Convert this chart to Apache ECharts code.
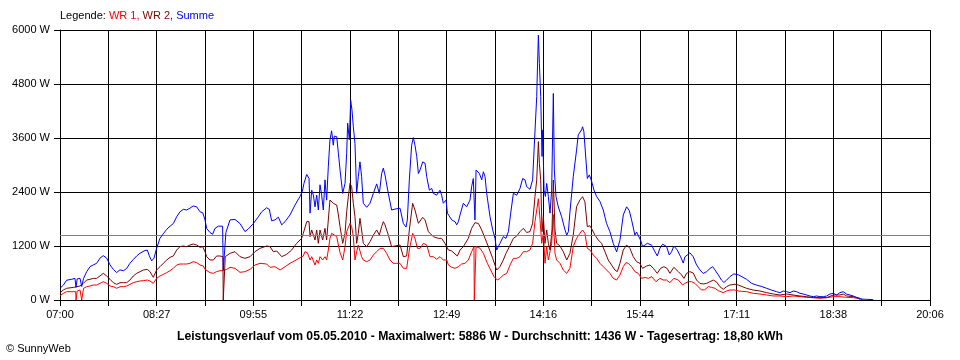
<!DOCTYPE html>
<html>
<head>
<meta charset="utf-8">
<script src="https://cdn.jsdelivr.net/npm/echarts@6/dist/echarts.min.js"></script>
<style>html,body{margin:0;padding:0;background:#fff}#c{width:960px;height:360px}</style>
</head>
<body>
<div id="c"></div>
<script>
// time in minutes after 07:00, value in W
var tickLabels = ['07:00','08:27','09:55','11:22','12:49','14:16','15:44','17:11','18:38','20:06'];
var yTicks = [0,1200,2400,3600,4800,6000];
var average = 1436;

var wr1 = [[0,96],[3,148],[6,185],[12,185],[14.2,185],[14.5,0],[15.1,0],[15.5,200],[18.1,222],[19.3,225],[19.6,0],[21,0],[21.3,260],[24.1,296],[27.1,311],[30.1,333],[33.1,333],[36.1,370],[39.1,407],[42.2,370],[45.2,311],[48.2,296],[51.2,260],[54.2,296],[57.2,296],[60.2,311],[63.2,348],[66.2,385],[69.3,407],[72.3,422],[75.3,430],[78.9,444],[81.3,422],[84.3,370],[87.3,481],[90.3,533],[93.3,570],[96.4,607],[99.4,652],[102.4,704],[105.4,778],[108.4,800],[111.4,800],[114.4,800],[117.4,815],[120.4,852],[123.5,830],[126.5,778],[129.5,756],[131,681],[135.5,607],[138.5,593],[141.5,630],[144.5,652],[147.5,652],[150.6,681],[153.6,726],
[158.1,704],[162.6,615],[167.1,630],[171.7,681],[176.2,778],[180.7,815],[186.7,800],[189.7,726],[194.2,740],[198.8,667],[203.3,740],[207.8,815],[212.3,874],[216.8,940],[219.8,978],[221.3,1074],[223.5,1050],[225.9,889],[227.4,963],[230.4,778],[231.9,889],[233.4,815],[234.9,963],[237.3,889],[239.4,963],[240.9,889],[242.4,1111],[243.9,1370],[245.4,1481],[246.9,1440],[250,1407],[251.5,1222],[253,1052],[255.4,889],[257.5,1185],[259,1519],[260.5,1540],[262,1704],[263.5,1630],[265,1407],[266.5,889],[268,1070],[269.5,1222],[271,1260],[272.5,963],[274,889],[277.1,852],[280.1,889],[283.1,1000],[286.1,1074],[289.1,1148],[292.1,1148],[295.1,1037],[298.1,889],[301.1,815],[304.2,815],
[307.2,815],[310.2,704],[313.2,704],[315.6,1111],[318.6,1481],[320.7,1370],[322.9,1148],[325.3,1148],[328.3,1259],[331.3,1222],[334.3,963],[337.3,963],[340.3,904],[343.3,963],[346.3,889],[349.4,889],[350.9,778],[353.9,726],[356.9,704],[359.9,740],[362.9,800],[365.9,815],[368.9,889],[371.9,1074],[374,1185],[374.3,0],[375.6,0],[375.9,1185],[377.1,1185],[379.5,1150],[382.5,1037],[386.1,815],[389.1,667],[392.1,519],[395.1,444],[397.5,480],[400.5,556],[403.6,590],[406.6,778],[409.6,926],[412.6,926],[415.6,963],[418.6,1074],[421.6,1074],[424.6,1111],[427,1259],[429.1,1741],[430.7,2000],[432.2,2250],[433.7,1778],[435.2,1259],[436.7,1480],[438.2,815],[439.7,1185],[441.2,889],[442.7,889],[444.2,1259],[445.7,1900],[447.2,1037],[448.7,889],[451.7,815],[454.7,667],[457.8,593],[459.3,630],
[460.7,704],[463.7,1185],[466.7,1370],[469.7,1481],[472.1,1556],[474.2,1480],[476.4,1148],[478.8,1111],[481.8,1000],[484.8,926],[487.8,815],[490.8,741],[493.8,667],[496.8,593],[499.8,481],[502.9,444],[505.9,556],[508.9,741],[511.3,830],[513.4,815],[516.4,741],[519.4,630],[522.4,593],[525.4,481],[528.5,500],[531.5,481],[534.5,519],[538.4,407],[542,481],[545,444],[548,444],[551,385],[554.6,481],[558.6,444],[562.5,333],[564.6,370],[567.6,407],[570.6,407],[573.6,370],[576.6,296],[579.6,222],[582.6,230],[585.7,296],[588.7,280],[591.7,260],[594.7,207],[599.2,163],[602.2,200],[605.2,222],[609.7,222],[612.8,200],
[614.3,222],[620.3,185],[626.3,148],[632.4,133],[638.4,111],[644.4,89],[650.4,89],[656.5,74],[662.5,89],[668.5,74],[674.5,59],[680.5,52],[686.6,37],[692.6,52],[698.6,74],[704.6,74],[710.7,59],[716.7,52],[721.2,37],[722.7,15]];

var wr2 = [[0,163],[3,222],[6,260],[12,280],[18.1,311],[21.1,370],[24.1,444],[27.1,460],[30.1,480],[33.1,480],[36.1,533],[39.1,593],[42.2,533],[45.2,460],[48.2,385],[51.2,348],[54.2,385],[57.2,385],[60.2,385],[63.2,444],[66.2,533],[69.3,593],[72.3,630],[75.3,667],[78.9,680],[81.3,630],[84.3,504],[87.3,667],[90.3,740],[93.3,815],[96.4,889],[99.4,948],[102.4,978],[105.4,1111],[108.4,1185],[111.4,1200],[114.4,1185],[117.4,1222],[120.4,1244],[123.5,1222],[126.5,1170],[128.9,1185],[131,1074],[132.5,963],[135.5,889],[138.5,889],[141.5,978],[144.5,978],[147.2,963],[147.5,0],[148.9,0],[149.3,963],[150.6,978],[153.6,1037],
[158.1,1074],[162.6,963],[167.1,926],[171.7,963],[176.2,1074],[180.7,1148],[186.7,1200],[189.7,1185],[192.7,1074],[195.8,1090],[200.3,963],[204.8,1015],[209.3,1111],[213.8,1259],[218.3,1370],[219.8,1481],[222.9,1741],[225,1741],[225.9,1407],[227.4,1556],[230.4,1333],[231.9,1556],[233.4,1259],[234.9,1556],[237.3,1333],[239.4,1593],[240.9,1333],[242.4,1778],[243.9,2222],[245.4,2222],[246.9,2148],[248.4,2185],[250,2111],[251.5,1889],[253,1630],[255.4,1259],[257.5,1481],[259,1963],[260.5,2296],[262,2593],[263.5,2520],[265,2148],[266.5,1852],[268,1259],[269.5,1481],[271,1815],[272.5,1556],[274,1259],[277.1,1185],[280.1,1296],[283.1,1444],[286.1,1556],[288.5,1444],[290.6,1630],[292.1,1741],[293.6,1670],[296.6,1444],[299.6,1185],[302.6,1200],
[307.2,1222],[310.2,963],[313.2,978],[315.6,1556],[318.6,2148],[320.7,2000],[323.8,1704],[327.7,1837],[329.8,1780],[332.8,1519],[337.3,1407],[341.8,1370],[344.8,1370],[347.8,1259],[350.9,1111],[353.9,1090],[356.9,1022],[359,978],[361.4,1111],[364.4,1185],[368.9,1370],[371.9,1593],[374.9,1719],[378,1700],[381,1556],[384,1370],[387,1185],[390.9,926],[394.5,667],[397.5,741],[400.5,889],[402.9,1037],[406,1185],[409.6,1370],[412.6,1420],[415.6,1519],[418.6,1593],[421.6,1500],[424.6,1520],[427,1704],[429.1,2296],[430.7,2667],[432.2,3519],[433.1,3037],[434.3,2667],[435.5,1519],[436.7,1852],[438.2,1259],[439.7,1556],[441.2,1259],[442.7,1111],[444.5,1556],[445.7,2667],[447.2,1556],[448.7,1259],[451.7,1200],[454.7,1074],[457.8,889],[459.3,850],
[460.7,1037],[463.7,1444],[466.7,2074],[469.7,2222],[472.1,2296],[474.2,2185],[476.4,1630],[478.8,1650],[480.9,1556],[483.3,1444],[486.3,1333],[489.3,1259],[492.3,1074],[495.3,889],[498.3,778],[501.3,667],[503.5,630],[505.9,815],[508.9,1111],[511.9,1222],[514.9,1148],[517.9,963],[520.9,852],[523.9,815],[526.3,704],[530,756],[533,778],[536,704],[539.6,593],[542.6,704],[545.6,741],[548.6,700],[551,593],[554.6,726],[558.6,630],[561.6,556],[563.7,481],[566.1,593],[569.1,630],[572.1,600],[575.1,444],[578.1,370],[581.1,356],[584.2,370],[587.2,407],[590.2,444],[593.2,400],[596.2,296],[599.2,237],[602.2,296],[605.2,333],[609.7,350],[612.8,333],
[614.3,333],[620.3,259],[626.3,222],[632.4,200],[638.4,163],[644.4,133],[650.4,111],[656.5,133],[662.5,111],[668.5,89],[674.5,74],[680.5,52],[686.6,59],[692.6,52],[698.6,111],[704.6,111],[707.6,133],[710.7,89],[716.7,74],[721.2,52],[722.7,22],[725,10]];

var summe = [[0,260],[3,330],[6,440],[10.5,460],[13.5,480],[14.2,470],[14.5,280],[15.1,280],[15.5,470],[18.1,480],[19.3,480],[19.6,300],[21,300],[21.3,480],[24.1,630],[27.1,740],[30.1,780],[33.1,815],[36.1,930],[39.1,985],[42.2,930],[45.2,780],[48.2,680],[51.2,610],[54.2,670],[57.2,650],[60.2,700],[63.2,815],[66.2,900],[69.3,980],[72.3,1040],[76.8,1100],[78.9,1110],[80.7,980],[82.8,870],[84.9,930],[87.3,1150],[90.3,1370],[93.3,1470],[96.4,1570],[99.4,1640],[102.4,1700],[105.4,1850],[108.4,1960],[111.4,2015],[114.4,2000],[117.4,2040],[120.4,2090],[121.9,2110],[123.5,2070],[126.5,1960],[128.9,1940],[131,1780],[132.5,1590],[135.5,1500],[137.9,1460],[140,1590],[143,1640],[146.9,1640],[147.5,670],[149.3,670],[149.9,1500],[153.6,1780],
[158.1,1790],[162.6,1700],[167.1,1520],[170.2,1580],[174.7,1700],[179.2,1850],[182.2,1960],[186.7,2050],[189.1,2015],[191.2,1760],[194.2,1780],[197.3,1840],[200.3,1670],[203.3,1740],[207.8,1890],[212.3,2110],[216.8,2300],[218.9,2410],[220.4,2590],[222.9,2790],[225,2700],[225.9,1930],[227.4,2440],[228.9,2330],[230.4,2070],[231.9,2330],[233.4,2000],[234.9,2560],[236.4,2330],[237.9,2000],[239.4,2670],[240.9,2220],[242.4,2960],[243.9,3560],[245.4,3760],[246.9,3440],[247.8,3640],[250,3630],[251.5,3260],[253,2890],[255.4,2370],[257.5,2590],[259,3260],[259.9,3930],[261.4,3560],[262.6,4440],[263.8,4220],[265,3850],[266.5,3480],[268,2370],[269.5,2740],[271,3070],[272.5,2740],[274,2150],[277.1,2060],[280.1,2150],[283.1,2370],[286.1,2580],[288.5,2370],[290.6,2810],[292.1,2930],[293.6,2780],[296.6,2370],[299.6,2000],[302.6,2020],
[307.2,2040],[308.7,2000],[310.2,1700],[312.6,1620],[313.8,1780],[315.6,2670],[317.7,3440],[319.2,3610],[320.7,3440],[322.3,3190],[323.8,2810],[325.3,2890],[327.7,3070],[329.8,3040],[331.3,2740],[333.7,2440],[335.8,2480],[337.3,2370],[340.3,2330],[343.3,2440],[344.8,2330],[346.3,2150],[348.8,2220],[350,1930],[351.8,1890],[353.9,1780],[355.4,1810],[356.9,1740],[358.4,1670],[359.9,1740],[361.4,1890],[364.4,2150],[367.4,2070],[370.4,2220],[371.9,2520],[373.4,2700],[374.6,2700],[374.9,1780],[375.6,1780],[375.9,2890],[377.1,2850],[378.9,2810],[381,2670],[382.5,2850],[384,2740],[385.5,2370],[387,2110],[388.5,1850],[390.9,1560],[393,1370],[394.5,1110],[396,1150],[397.5,1260],[400.5,1410],[402.9,1370],[405.1,1520],[407.2,1930],[409.6,2370],[412.6,2330],[415.6,2480],[418,2700],[420.1,2670],[421.6,2520],[424.6,2460],[427,2670],[428.8,3590],[430.7,4520],[431.3,5110],[432.2,5886],[433.1,5260],[434.3,4520],[435.5,3190],[436.1,3780],[437.3,2440],[438.5,2300],[439.7,2590],[441.2,2300],[442.7,1930],[444.2,2440],[445.7,4590],[446.6,2890],[448.1,2300],[450.2,2070],[453.2,1850],[456.2,1560],[457.8,1440],[459.3,1520],
[460.7,1950],[463.7,2740],[466.7,3330],[468.2,3670],[469.7,3670],[471.2,3780],[472.1,3850],[473.3,3740],[474.9,3700],[476.4,2700],[478.2,2780],[479.4,2700],[480.9,2590],[482.4,2440],[484.8,2300],[487.8,2190],[490.8,2000],[493.8,1700],[496.8,1520],[499.8,1260],[502.9,1070],[504.4,1040],[505.9,1330],[508.9,1890],[511.9,2070],[514.3,1990],[516.4,1780],[519.4,1440],[520.9,1510],[522.4,1480],[524.5,1330],[526.3,1190],[528.5,1220],[530.6,1260],[534.5,1220],[537.5,1070],[539.6,980],[542,1150],[544.4,1240],[548,1190],[550.4,1000],[552.5,1070],[554.6,1200],[557.7,1110],[560.7,960],[563.1,820],[564.6,960],[566.7,1000],[569.1,1050],[572.1,960],[575.1,780],[578.1,670],[581.1,590],[584.2,630],[587.2,700],[589.6,740],[591.7,670],[594.7,560],[597.7,440],[599.8,390],[602.2,440],[605.2,520],[608.8,580],[612.8,560],
[614.3,556],[620.3,460],[624.8,370],[629.4,330],[633.9,300],[638.4,260],[642.9,220],[647.4,185],[650.4,163],[653.4,200],[656.5,185],[659.5,163],[662.5,200],[665.5,185],[668.5,148],[671.5,133],[674.5,111],[677.5,89],[680.5,74],[683.6,89],[686.6,74],[689.6,74],[692.6,89],[695.6,133],[698.6,148],[701.6,111],[704.6,163],[707.6,185],[710.7,130],[713.7,111],[716.7,89],[719.7,52],[722.7,22],[728.7,15],[734.7,7]];

var FONT = 'Arial, "Liberation Sans", sans-serif';
var xMax = 786, xStep = xMax / 18;
var chart = echarts.init(document.getElementById('c'), null, {renderer: 'canvas'});
function lineSeries(name, data, color, z) {
  return {name: name, type: 'line', data: data, showSymbol: false, symbol: 'none', animation: false,
    lineStyle: {color: color, width: 1}, itemStyle: {color: color}, z: z};
}
var sRed = lineSeries('WR 1', wr1, '#FF0000', 3);
sRed.markLine = {silent: true, symbol: 'none', animation: false, label: {show: false},
  lineStyle: {color: '#808080', type: 'solid', width: 1}, data: [{yAxis: average}]};
chart.setOption({
  backgroundColor: '#ffffff',
  animation: false,
  grid: {left: 60, right: 30, top: 30, bottom: 60, containLabel: false},
  xAxis: {
    type: 'value', min: 0, max: xMax, interval: xStep,
    axisLine: {show: true, lineStyle: {color: '#000', width: 1}},
    axisTick: {show: true, length: 6, lineStyle: {color: '#000'}},
    splitLine: {show: true, lineStyle: {color: '#000', width: 1}},
    axisLabel: {color: '#000', fontFamily: FONT, fontSize: 11, margin: 9, showMaxLabel: true, showMinLabel: true,
      formatter: function (v) { var i = Math.round(v / xStep); return i % 2 === 0 ? (tickLabels[i / 2] || '') : ''; }}
  },
  yAxis: {
    type: 'value', min: yTicks[0], max: yTicks[yTicks.length - 1], interval: yTicks[1] - yTicks[0],
    axisLine: {show: true, lineStyle: {color: '#000', width: 1}},
    axisTick: {show: true, length: 6, lineStyle: {color: '#000'}},
    splitLine: {show: true, lineStyle: {color: '#000', width: 1}},
    axisLabel: {color: '#000', fontFamily: FONT, fontSize: 11, margin: 10,
      formatter: function (v) { return String(Math.round(v)) + ' W'; }}
  },
  series: [sRed, lineSeries('WR 2', wr2, '#800000', 4), lineSeries('Summe', summe, '#0000FF', 5)],
  graphic: [
    {type: 'text', left: 60, top: 10, style: {text: '{k|Legende: }{r|WR 1, }{d|WR 2, }{b|Summe}', font: '11px ' + FONT,
      rich: {k: {fill: '#000', font: '11px ' + FONT}, r: {fill: '#FF0000', font: '11px ' + FONT},
             d: {fill: '#800000', font: '11px ' + FONT}, b: {fill: '#0000FF', font: '11px ' + FONT}}}},
    {type: 'text', x: 480, y: 337, style: {text: 'Leistungsverlauf vom 05.05.2010 - Maximalwert: 5886 W - Durchschnitt: 1436 W - Tagesertrag: 18,80 kWh',
      font: 'bold 12.2px ' + FONT, fill: '#000', align: 'center', verticalAlign: 'middle'}},
    {type: 'text', x: 6, y: 348.5, style: {text: '\u00A9 SunnyWeb', font: '11px ' + FONT, fill: '#000', align: 'left', verticalAlign: 'middle'}}
  ]
});
</script>
</body>
</html>
